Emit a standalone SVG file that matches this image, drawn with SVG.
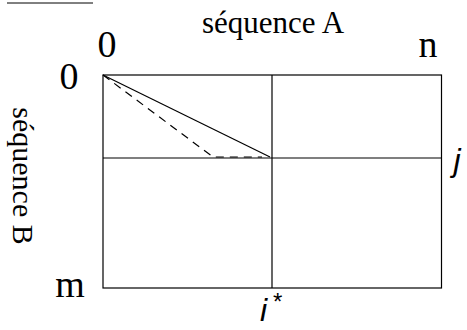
<svg xmlns="http://www.w3.org/2000/svg" width="467" height="330" viewBox="0 0 467 330">
<style>
.serif{font-family:"Liberation Serif","Times New Roman",serif;fill:#000}
.sans{font-family:"Liberation Sans",Arial,sans-serif;font-style:italic;fill:#000}
.ln{stroke:#000;stroke-width:1.2;fill:none}
</style>
<rect width="467" height="330" fill="#fff"/>
<line x1="7" y1="3" x2="93" y2="3" stroke="#000" stroke-width="1"/>
<g id="grid">
<rect class="ln" x="103" y="75" width="338.5" height="213"/>
<line class="ln" x1="272" y1="75" x2="272" y2="288"/>
<line class="ln" x1="103" y1="158" x2="441.5" y2="158"/>
</g>
<g id="connectors">
<line class="ln" x1="103" y1="75" x2="270" y2="157"/>
<polyline class="ln" points="103,75 213,157 262,157" stroke-dasharray="8,6"/>
</g>
<g id="labels">
<text class="serif" x="273" y="33" font-size="31" text-anchor="middle">séquence A</text>
<text class="serif" x="107" y="57" font-size="38" text-anchor="middle">0</text>
<text class="serif" x="428" y="57" font-size="38" text-anchor="middle">n</text>
<text class="serif" x="69" y="89" font-size="38" text-anchor="middle">0</text>
<text class="serif" x="70" y="297" font-size="38" text-anchor="middle">m</text>
<text class="sans" x="457" y="171" font-size="32" text-anchor="middle">j</text>
<text class="sans" x="260" y="321" font-size="32">i</text>
<text class="sans" x="272" y="310" font-size="24" font-style="normal">*</text>
<text class="serif" transform="translate(13,176) rotate(90)" font-size="30" text-anchor="middle">séquence B</text>
</g>
</svg>
